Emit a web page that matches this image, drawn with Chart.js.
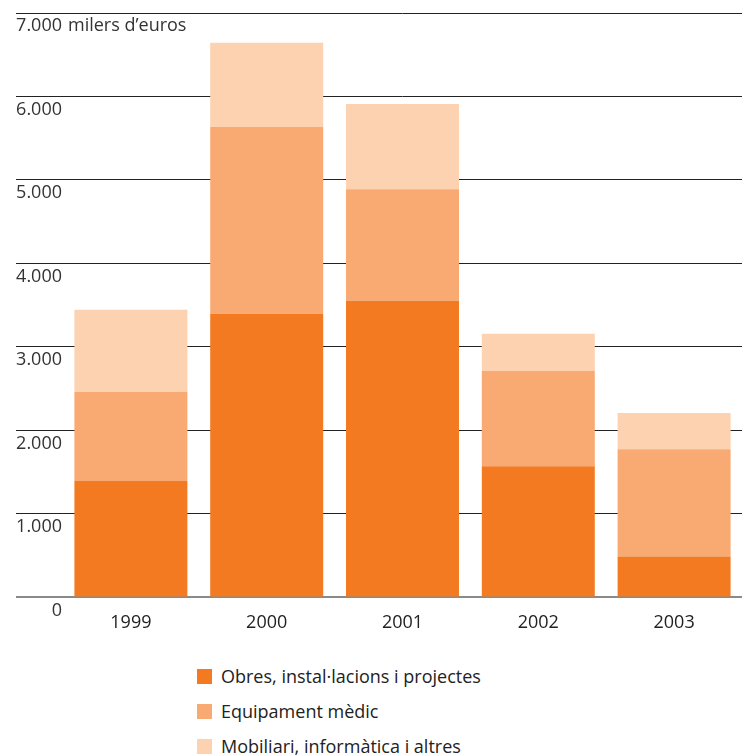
<!DOCTYPE html>
<html>
<head>
<meta charset="utf-8">
<script src="https://cdn.jsdelivr.net/npm/chart.js@4"></script>
<style>
  body { margin: 0; background: #fff; }
  #legend { margin-top: 16px; padding-left: 197px; font: 18px "Open Sans"; color: #222; }
  .item { display: flex; align-items: center; height: 20px; margin-bottom: 15px; }
  .box { width: 15px; height: 15px; margin-right: 9px; flex: none; }
</style>
</head>
<body>
<canvas id="chart" width="744" height="650"></canvas>
<div id="legend"></div>
<script>
// milers d'euros per any
const years = ['1999', '2000', '2001', '2002', '2003'];
const obres = [1394, 3398, 3554, 1571, 489];
const equipament = [1066, 2235, 1334, 1142, 1286];
const mobiliari = [986, 1010, 1022, 444, 433];
const seriesNames = ['Obres, instal·lacions i projectes', 'Equipament mèdic', 'Mobiliari, informàtica i altres'];
const colors = ['#F37A21', '#F9AA72', '#FCD2B0'];
const yMax = 7000;
const yStep = 1000;
const unitText = 'milers d’euros';

function fmt(v) {
  return String(v).replace(/\B(?=(\d{3})+(?!\d))/g, '.');
}

// unit after the top tick label
const unitLabel = {
  id: 'unitLabel',
  afterDraw(chart) {
    const y = chart.scales.y;
    const ctx = chart.ctx;
    ctx.save();
    ctx.font = '18px "Open Sans"';
    ctx.fillStyle = '#333';
    ctx.textBaseline = 'middle';
    ctx.textAlign = 'left';
    ctx.fillText(unitText, 68, y.getPixelForValue(yMax) + 13);
    ctx.restore();
  }
};

const ctx = document.getElementById('chart').getContext('2d');
const chart = new Chart(ctx, {
  type: 'bar',
  data: {
    labels: years,
    datasets: [obres, equipament, mobiliari].map((d, i) => ({
      label: seriesNames[i],
      data: d,
      backgroundColor: colors[i],
      borderWidth: 0,
      categoryPercentage: 1,
      barPercentage: 0.832
    }))
  },
  options: {
    responsive: false,
    animation: false,
    layout: { padding: { top: 13, left: 16, right: 2, bottom: 1 } },
    plugins: {
      legend: { display: false },
      tooltip: { enabled: false }
    },
    scales: {
      x: {
        stacked: true,
        grid: { display: false, drawTicks: false },
        border: { display: false },
        ticks: {
          color: '#222',
          font: { family: 'Open Sans', size: 18 },
          padding: 15
        }
      },
      y: {
        stacked: true,
        min: 0,
        max: yMax,
        border: { display: false },
        grid: {
          drawTicks: true,
          tickLength: 47,
          color: c => c.tick && c.tick.value === 0 ? '#8a8a8a' : '#222',
          lineWidth: c => c.tick && c.tick.value === 0 ? 2 : 1
        },
        afterFit(scale) { scale.width = 47; },
        ticks: {
          stepSize: yStep,
          crossAlign: 'near',
          padding: -46,
          labelOffset: 13,
          color: '#333',
          font: { family: 'Open Sans', size: 18 },
          callback: v => fmt(v)
        }
      }
    }
  },
  plugins: [unitLabel]
});

// legend as a vertical list under the chart
const legend = document.getElementById('legend');
chart.data.datasets.forEach(ds => {
  const row = document.createElement('div');
  row.className = 'item';
  const box = document.createElement('span');
  box.className = 'box';
  box.style.background = ds.backgroundColor;
  const txt = document.createElement('span');
  txt.textContent = ds.label;
  row.appendChild(box);
  row.appendChild(txt);
  legend.appendChild(row);
});
</script>
</body>
</html>
